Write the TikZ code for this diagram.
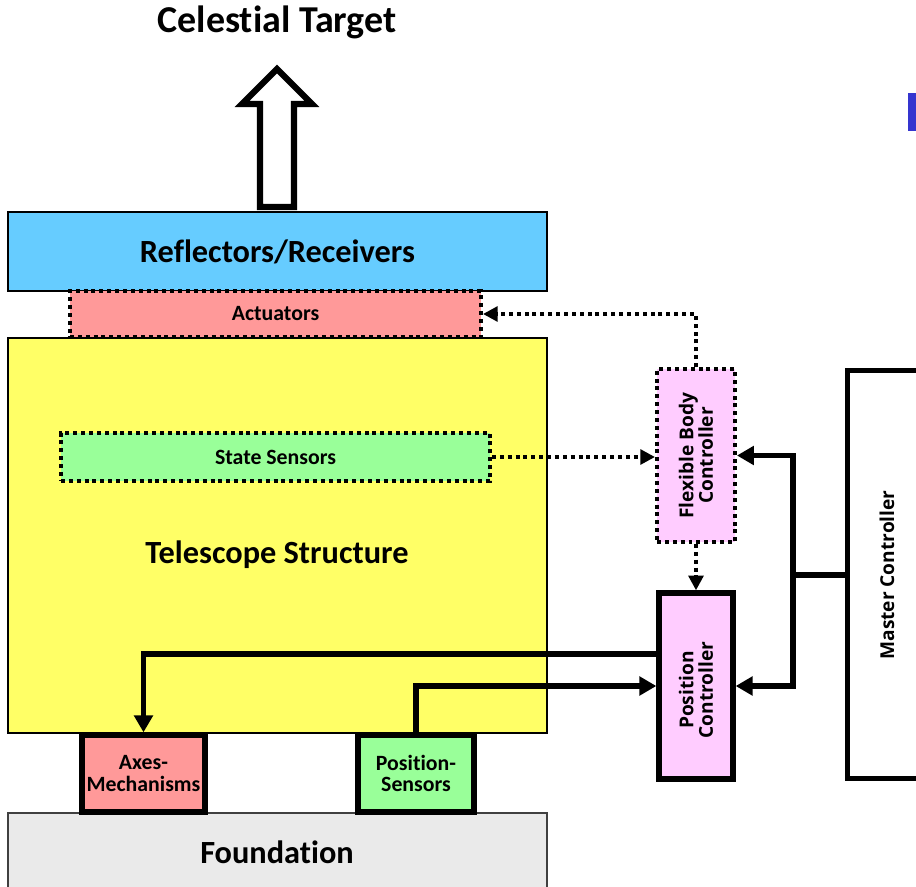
\documentclass[tikz,border=0pt]{standalone}
\usepackage{fontspec}
\setmainfont{Carlito}[Ligatures=NoCommon]
\newfontfamily\ctrlfont{Open Sans}
\usetikzlibrary{arrows.meta,calc}

\definecolor{reflcol}{HTML}{66CCFF}
\definecolor{actcol}{HTML}{FF9999}
\definecolor{telcol}{HTML}{FFFF66}
\definecolor{sensecol}{HTML}{99FF99}
\definecolor{ctrlcol}{HTML}{FFCCFF}
\definecolor{fndcol}{HTML}{EAEAEA}
\definecolor{markcol}{HTML}{3535CF}

\begin{document}
\begin{tikzpicture}[x=0.025cm,y=-0.025cm,
  sz/.style 2 args={minimum width=#1*0.025cm, minimum height=#2*0.025cm},
  box/.style={draw, inner sep=0pt, align=center, font=\bfseries},
  thinbox/.style={box, line width=0.9pt},
  dotbox/.style={box, line width=2.8pt, dash pattern=on 2.8pt off 2.8pt},
  thickbox/.style={box, line width=3.8pt},
  bigtext/.style={font=\bfseries\fontsize{23}{27}\selectfont},
  smalltext/.style={font=\bfseries\fontsize{15.5}{15.5}\selectfont},
  ctrltext/.style={font=\ctrlfont\bfseries\fontsize{13.6}{13.8}\selectfont, rotate=90, align=center},
  link/.style={line width=3.6pt, -{Triangle[length=12pt,width=13pt]}},
  dotlink/.style={line width=2.8pt, dash pattern=on 2.8pt off 2.8pt, -{Triangle[length=10.5pt,width=10.5pt]}}
]
\clip (0,0) rectangle (916,887);
\fill[white] (0,0) rectangle (916,887);

% structure blocks
\node[thinbox, fill=telcol, sz={539}{395}] (tel) at (277.5,535.5) {};
\node[bigtext] (tellabel) at (277,555) {Telescope Structure};
\node[thinbox, fill=reflcol, sz={539}{79}, bigtext] (refl) at (277.5,251.5) {Reflectors/Receivers};
\node[dotbox, fill=actcol, sz={411}{46}, smalltext] (act) at (275.5,314) {Actuators};
\node[dotbox, fill=sensecol, sz={429}{48}, smalltext] (ss) at (275.5,457) {State Sensors};
\node[thinbox, draw=black!75, fill=fndcol, sz={539}{82}] (fnd) at (277.5,854) {};
\node[bigtext] (fndlabel) at (277,852) {Foundation};
\node[thickbox, fill=actcol, sz={123}{77}, smalltext] (ax) at (143.5,773.5) {Axes-\\Mechanisms};
\node[thickbox, fill=sensecol, sz={116}{77}, smalltext] (ps) at (416,773.5) {Position-\\Sensors};

% controllers
\node[dotbox, fill=ctrlcol, sz={78}{173}] (fbc) at (696,455.5) {};
\node[ctrltext] (fbclabel) at (fbc.center) {Flexible Body\\Controller};
\node[thickbox, fill=ctrlcol, sz={74}{186}] (pc) at (696,686) {};
\node[ctrltext] (pclabel) at (696,690) {Position\\Controller};
\node[thickbox, fill=white, sz={176}{408}] (mc) at (935.5,574.5) {};
\node[ctrltext] (mclabel) at (887,575) {Master Controller};

% title and pointing arrow
\node[font=\bfseries\fontsize{27}{31}\selectfont] (title) at (277,22) {Celestial Target};
\draw[line width=4.3pt, fill=white, line join=miter]
  (260,207) -- (260,104) -- (242,104) -- (277,69) -- (312,104)
  -- (294,104) -- (294,207) -- cycle;

% small marker at the right edge
\fill[markcol] (908,93) rectangle (920,131);

% flexible body loop
\draw[dotlink] (fbc.north) |- (act.east);
\draw[dotlink] (ss.east) -- (ss.east -| fbc.west);
\draw[dotlink] (fbc.south) -- (pc.north);

% master controller feeds
\coordinate (split) at (793,575);
\draw[line width=3.6pt] (mc.west |- split) -- (split);
\draw[link] (split) |- (fbc.east);
\draw[link] (split) |- (pc.east);

% position loop
\draw[link] ($(pc.west)+(0,-32)$) -| (ax.north);
\draw[link] (ps.north) |- (pc.west);
\end{tikzpicture}
\end{document}
